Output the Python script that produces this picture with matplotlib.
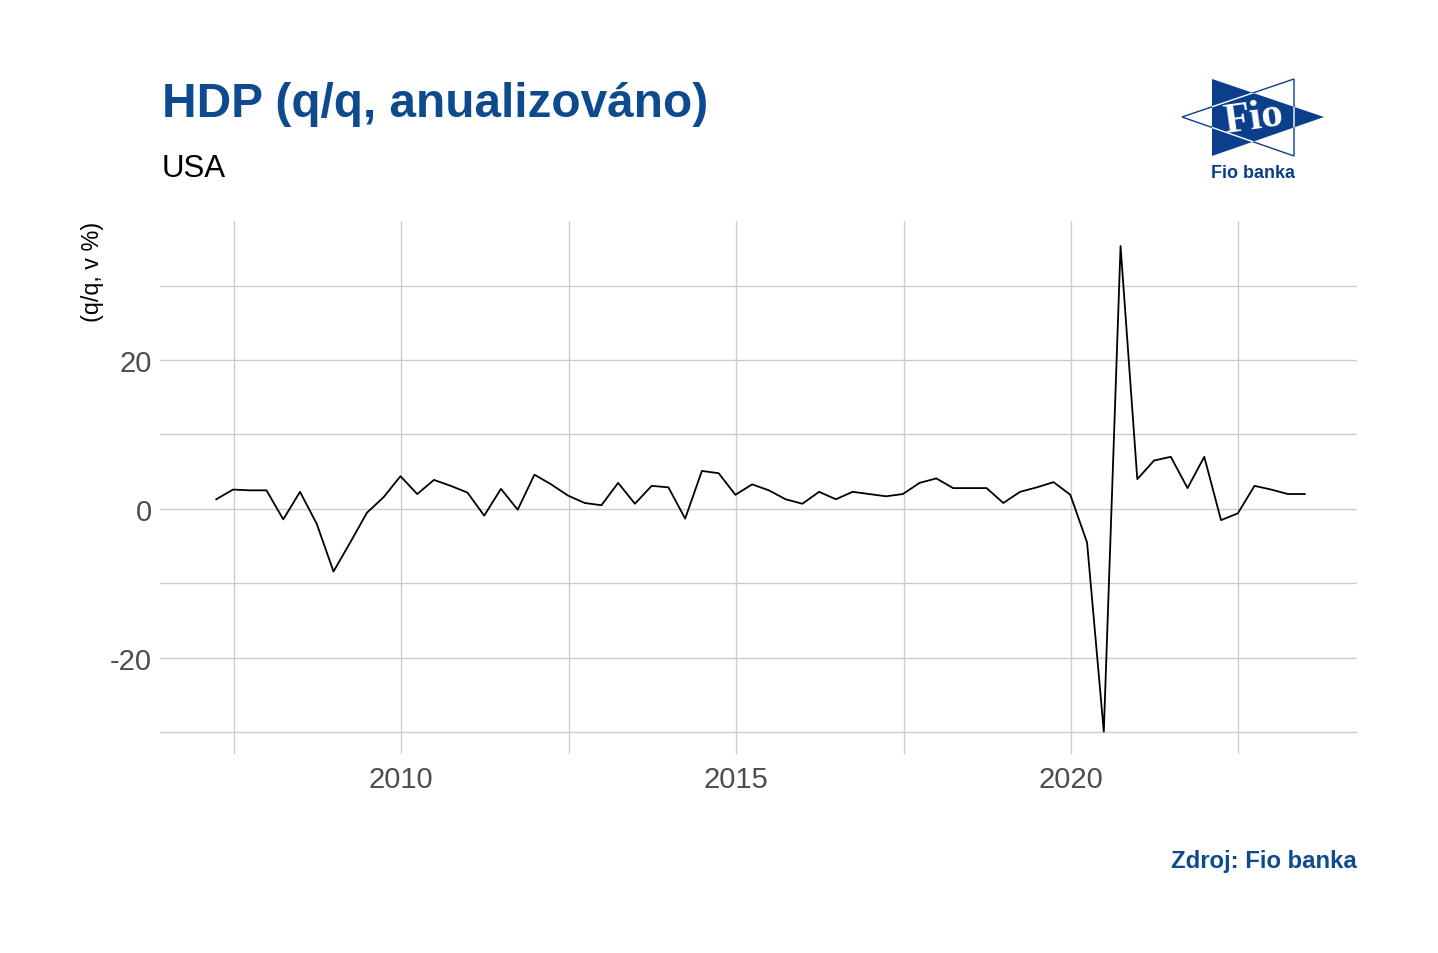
import matplotlib
matplotlib.use("Agg")
import matplotlib.pyplot as plt
from matplotlib.patches import Polygon
import pandas as pd
import numpy as np

plt.rcParams['font.family'] = ['Liberation Sans', 'DejaVu Sans']
plt.rcParams['axes.unicode_minus'] = False

# Quarterly US GDP growth (q/q annualised, %), 2007Q1 .. 2023Q2
quarters = [str(p) for p in pd.period_range("2007Q1", "2023Q2", freq="Q")]
values = [
    1.3, 2.6, 2.5,
    2.5, -1.4, 2.3, -2.0,
    -8.4, -4.5, -0.5, 1.6,
    4.4, 2.0, 3.9, 3.1,
    2.2, -0.9, 2.7, -0.1,
    4.6, 3.3, 1.8, 0.8,
    0.5, 3.5, 0.7, 3.1,
    2.9, -1.3, 5.1, 4.8,
    1.9, 3.3, 2.5, 1.3,
    0.7, 2.3, 1.3, 2.3,
    2.0, 1.7, 2.0, 3.5,
    4.1, 2.8, 2.8, 2.8,
    0.8, 2.3, 2.9, 3.6,
    1.9, -4.5, -29.9, 35.3,
    4.0, 6.5, 7.0, 2.8,
    7.0, -1.5, -0.6, 3.1,
    2.6, 2.0, 2.0,
]
major_years = [2010, 2015, 2020]
minor_years = [2007.5, 2012.5, 2017.5, 2022.5]
y_major = [-20, 0, 20]
y_minor = [-30, -10, 10, 30]

title = "HDP (q/q, anualizováno)"
subtitle = "USA"
ylabel = "(q/q, v %)"
caption = "Zdroj: Fio banka"

BLUE = "#0d4a8e"
LOGO_BLUE = "#0b3f8b"

# quarter-end as decimal year
def qpos(q):
    y, qq = q.split("Q")
    return int(y) + int(qq) / 4.0 - 0.01

x = np.array([qpos(q) for q in quarters])

W, H = 1438, 954
fig = plt.figure(figsize=(W / 100, H / 100), dpi=100)
ax = fig.add_axes([160 / W, 1 - 755 / H, (1357 - 160) / W, (755 - 222) / H])

ax.plot(x, values, color="black", lw=1.3, zorder=3)

ax.set_xlim(2006.40, 2024.27)
ax.set_ylim(-32.9, 38.66)

ax.set_xticks(major_years)
ax.set_xticks(minor_years, minor=True)
ax.set_yticks(y_major)
ax.set_yticks(y_minor, minor=True)
ax.set_yticklabels([str(v) for v in y_major])
ax.grid(True, which="both", color="#cccccc", lw=1.0, zorder=0)
ax.set_axisbelow(True)
for s in ax.spines.values():
    s.set_visible(False)
ax.tick_params(which="both", length=0)
ax.tick_params(axis="x", labelsize=21, colors="#4d4d4d", pad=8)
ax.tick_params(axis="y", labelsize=21, colors="#4d4d4d", pad=6)

fig.text(162 / W, 1 - 117 / H, title, fontsize=34.4, fontweight="bold",
         color=BLUE, ha="left", va="baseline")
fig.text(162 / W, 1 - 177 / H, subtitle, fontsize=22.5, color="black",
         ha="left", va="baseline")
fig.text(92 / W, 1 - 222 / H, ylabel, fontsize=16.8, rotation=90,
         ha="center", va="top", color="black")
fig.text(1357 / W, 1 - 868 / H, caption, fontsize=17.2, fontweight="bold",
         color=BLUE, ha="right", va="baseline")

# Logo
def fc(px, py):
    return (px / W, 1 - py / H)

blue_tri = Polygon([fc(1212, 80), fc(1212, 157), fc(1324, 118)], closed=True,
                   transform=fig.transFigure, facecolor=LOGO_BLUE,
                   edgecolor="none", zorder=5)
fig.add_artist(blue_tri)
wt = [fc(1294, 80), fc(1294, 157), fc(1182, 118)]
outline = Polygon(wt, closed=True, transform=fig.transFigure,
                  facecolor="none", edgecolor=LOGO_BLUE, lw=1.0, zorder=4)
fig.add_artist(outline)
outline_w = Polygon(wt, closed=True, transform=fig.transFigure,
                    facecolor="none", edgecolor="white", lw=1.0, zorder=6)
fig.add_artist(outline_w)
outline_w.set_clip_path(blue_tri)
fig.text(1253 / W, 1 - 119 / H, "Fio", fontsize=31, family="Liberation Serif",
         fontweight="bold", color="white", ha="center", va="center",
         rotation=8, zorder=7)
fig.text(1253 / W, 1 - 178 / H, "Fio banka", fontsize=13, fontweight="bold",
         color=LOGO_BLUE, ha="center", va="baseline")

fig.savefig("out.png", dpi=100)
